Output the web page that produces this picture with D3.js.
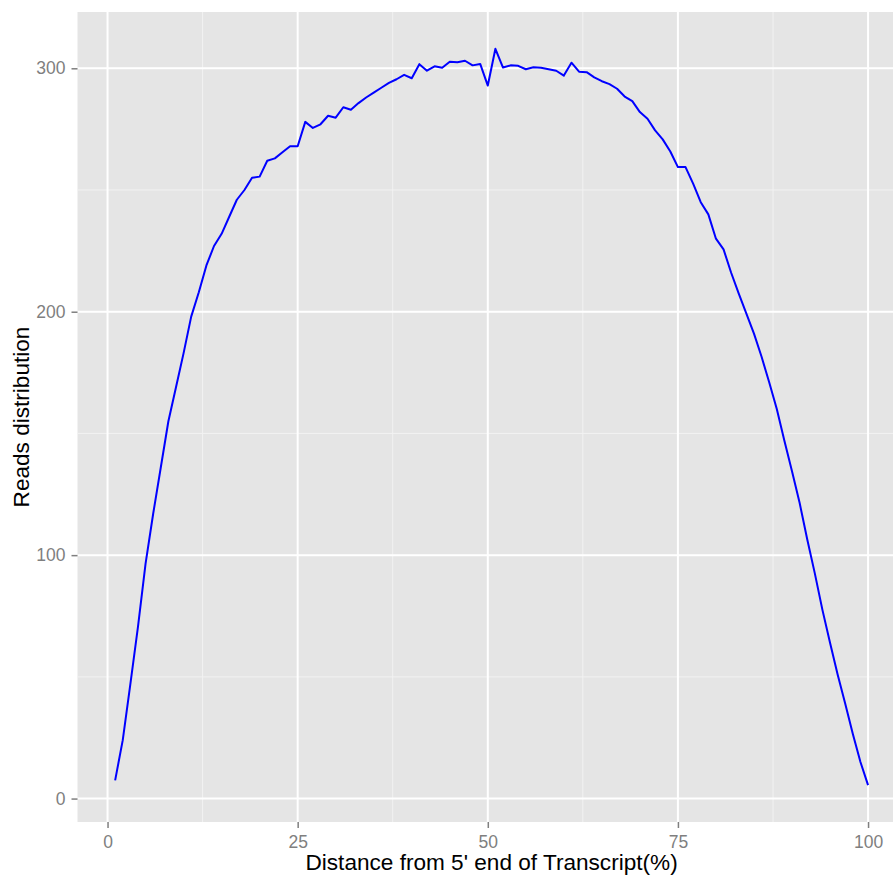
<!DOCTYPE html>
<html>
  <head>
    <meta charset="utf-8">
    <script src="https://d3js.org/d3.v7.min.js"></script>
    <style>
      body {
          margin: 0;
          background: #fff;
          font-family: "Liberation Sans", Helvetica, Arial, sans-serif;
      }
      .tick-label {
          font-size: 17.5px;
          fill: #7f7f7f;
      }
      .axis-title {
          font-size: 22.6px;
          fill: #000;
      }
      .line {
        fill: none;
        stroke: #0000ff;
        stroke-width: 2px;
        stroke-linejoin: round;
      }
    </style>
  </head>
  <body>
    <svg width="893" height="877"></svg>
    <script>

    // position along transcript (%), 1..100
    var positions = d3.range(1, 101);

    // reads distribution
    var reads = [
      7.5, 24, 47, 70.5, 96.5, 117, 136, 155, 169, 183,
      198, 208, 219, 227, 232, 239, 246, 250, 255, 255.5,
      262, 263, 265.5, 268, 268, 278, 275.5, 277, 280.5, 279.7,
      284, 283, 285.7, 288, 290, 292, 294, 295.5, 297.3, 295.9,
      301.7, 299, 300.8, 300.2, 302.7, 302.5, 303.1, 301.2, 301.8, 292.9,
      308, 300.3, 301.2, 301, 299.6, 300.4, 300.2, 299.6, 299, 297,
      302.3, 298.6, 298.4, 296.3, 294.7, 293.5, 291.6, 288.4, 286.5, 282,
      279.3, 274.5, 270.8, 265.8, 259.4, 259.4, 252.6, 245, 240, 230,
      225.6, 216, 207.4, 199.2, 191, 181.5, 171, 160, 147, 134.5,
      121.5, 106.5, 92.5, 77.5, 64, 51, 39, 26.5, 15, 5.5
    ];

    var xTicks = [0, 25, 50, 75, 100],
        xMinor = [12.5, 37.5, 62.5, 87.5],
        yTicks = [0, 100, 200, 300],
        yMinor = [50, 150, 250];

    var data = positions.map(function(p, i) { return {pos: p, reads: reads[i]}; });

    var svg = d3.select("svg"),
        panel = {left: 77.5, right: 905.7, top: 12, bottom: 822};

    // ggplot-style 5% expansion
    function expand(ext) {
      var pad = (ext[1] - ext[0]) * 0.05;
      return [ext[0] - pad, ext[1] + pad];
    }

    var x = d3.scaleLinear()
        .domain(expand(d3.extent(positions)))
        .range([panel.left, panel.right]);
    var y = d3.scaleLinear()
        .domain(expand(d3.extent(reads)))
        .range([panel.bottom, panel.top]);

    svg.append("rect")
        .attr("x", panel.left)
        .attr("y", panel.top)
        .attr("width", panel.right - panel.left)
        .attr("height", panel.bottom - panel.top)
        .attr("fill", "#e5e5e5");

    var grid = svg.append("g");

    grid.selectAll(".ymin").data(yMinor).enter().append("line")
        .attr("x1", panel.left).attr("x2", panel.right)
        .attr("y1", function(d) { return y(d); }).attr("y2", function(d) { return y(d); })
        .attr("stroke", "#f2f2f2").attr("stroke-width", 1);
    grid.selectAll(".xmin").data(xMinor).enter().append("line")
        .attr("y1", panel.top).attr("y2", panel.bottom)
        .attr("x1", function(d) { return x(d); }).attr("x2", function(d) { return x(d); })
        .attr("stroke", "#f2f2f2").attr("stroke-width", 1);
    grid.selectAll(".ymaj").data(yTicks).enter().append("line")
        .attr("x1", panel.left).attr("x2", panel.right)
        .attr("y1", function(d) { return y(d); }).attr("y2", function(d) { return y(d); })
        .attr("stroke", "#fff").attr("stroke-width", 2);
    grid.selectAll(".xmaj").data(xTicks).enter().append("line")
        .attr("y1", panel.top).attr("y2", panel.bottom)
        .attr("x1", function(d) { return x(d); }).attr("x2", function(d) { return x(d); })
        .attr("stroke", "#fff").attr("stroke-width", 2);

    var line = d3.line()
        .x(function(d) { return x(d.pos); })
        .y(function(d) { return y(d.reads); });

    svg.append("path")
        .datum(data)
        .attr("class", "line")
        .attr("d", line);

    // axes
    var xAxis = svg.append("g")
        .attr("transform", "translate(0," + panel.bottom + ")")
        .call(d3.axisBottom(x).tickValues(xTicks).tickSize(6).tickPadding(8));
    var yAxis = svg.append("g")
        .attr("transform", "translate(" + panel.left + ",0)")
        .call(d3.axisLeft(y).tickValues(yTicks).tickSize(6).tickPadding(6));

    [xAxis, yAxis].forEach(function(ax) {
      ax.select(".domain").remove();
      ax.selectAll(".tick line").attr("stroke", "#7f7f7f").attr("stroke-width", 1.5);
      ax.selectAll(".tick text")
        .attr("class", "tick-label")
        .attr("font-family", null).attr("font-size", null)
        .attr("fill", null);
    });

    svg.append("text")
        .attr("class", "axis-title")
        .attr("x", (panel.left + panel.right) / 2)
        .attr("y", 870)
        .attr("text-anchor", "middle")
        .text("Distance from 5' end of Transcript(%)");

    svg.append("text")
        .attr("class", "axis-title")
        .attr("transform", "translate(29," + ((panel.top + panel.bottom) / 2) + ") rotate(-90)")
        .attr("text-anchor", "middle")
        .text("Reads distribution");

    </script>
  </body>
</html>
